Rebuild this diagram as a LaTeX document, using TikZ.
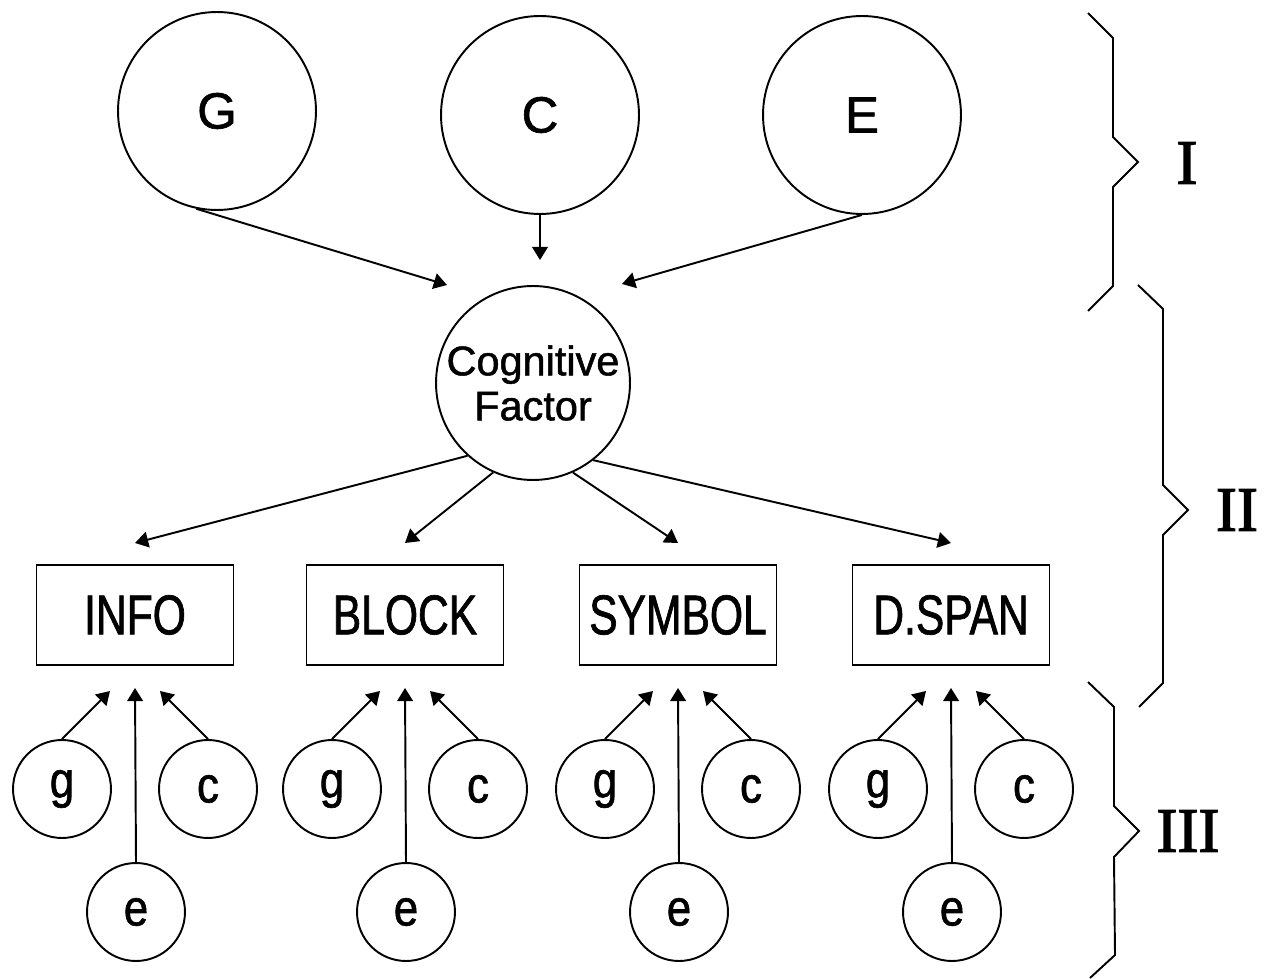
\documentclass[tikz,border=0pt]{standalone}
\usepackage{fontspec}
\setmainfont[FakeBold=1.2]{Liberation Sans}
\newfontfamily\narrowfont[FakeStretch=0.76,FakeBold=1.2]{Liberation Sans}
\newfontfamily\smallfont[FakeStretch=0.86,FakeBold=1.2]{Liberation Sans}
\newfontfamily\romanfont[FakeBold=2]{Liberation Serif}
\usetikzlibrary{arrows.meta}
\begin{document}
\begin{tikzpicture}[x=0.02cm,y=-0.02cm,line width=1.1pt,
  bigcirc/.style={draw,circle,inner sep=0pt,minimum size=3.96cm,font=\fontsize{29}{32}\selectfont},
  factor/.style={draw,circle,inner sep=0pt,minimum size=3.88cm,align=center,font=\fontsize{23.6}{25.6}\selectfont},
  groupbox/.style={draw,rectangle,inner sep=0pt,minimum width=3.94cm,minimum height=2cm,font=\narrowfont\fontsize{31.9}{34}\selectfont},
  smallcirc/.style={draw,circle,inner sep=0pt,minimum size=1.96cm,font=\smallfont\fontsize{29}{31}\selectfont},
  level/.style={font=\romanfont\fontsize{35.9}{38}\selectfont},
  arr/.style={-{Triangle[length=7.5pt,width=9pt]}}]
\useasboundingbox (0,0) rectangle (1268,979);
\node[bigcirc] (G) at (217,111) {G};
\node[bigcirc] (C) at (540,115) {C};
\node[bigcirc] (E) at (862,115) {E};
\node[factor] (cf) at (533,383) {Cognitive\\Factor};
\coordinate (tG) at (447,285);
\coordinate (tC) at (540,260);
\coordinate (tE) at (622,284);
\draw[arr] (G.258) -- (tG);
\draw[arr] (C.south) -- (tC);
\draw[arr] (E.south) -- (tE);
\foreach \n/\t/\x/\a in {info/INFO/135/228,block/BLOCK/405/246,symbol/SYMBOL/678/294,dspan/D.SPAN/951/308}{
  \node[groupbox] (\n) at (\x,615) {\t};
  \coordinate (\n-top) at (\x,543);
  \draw[arr] (cf.\a) -- (\n-top);
  \node[smallcirc] (\n-g) at (\x-73,789) {g};
  \node[smallcirc] (\n-c) at (\x+73,789) {c};
  \node[smallcirc] (\n-e) at (\x+1,912) {e};
  \coordinate (\n-tg) at (\x-25,691);
  \coordinate (\n-te) at (\x,688);
  \coordinate (\n-tc) at (\x+25,691);
  \draw[arr] (\n-g.north) -- (\n-tg);
  \draw[arr] (\n-e.north) -- (\n-te);
  \draw[arr] (\n-c.north) -- (\n-tc);
}
\draw (1088,13) -- (1113,38) -- (1113,137) -- (1138,162) -- (1113,187) -- (1113,286) -- (1088,311);
\draw (1138,285) -- (1163,309) -- (1163,485) -- (1188,510) -- (1163,535) -- (1163,683) -- (1139,707);
\draw (1088,682) -- (1114,707) -- (1114,806) -- (1139,831) -- (1114,857) -- (1115,955) -- (1090,978);
\node[level] (l1) at (1187,163) {I};
\node[level] (l2) at (1237,510) {II};
\node[level] (l3) at (1188,831) {III};
\end{tikzpicture}
\end{document}
